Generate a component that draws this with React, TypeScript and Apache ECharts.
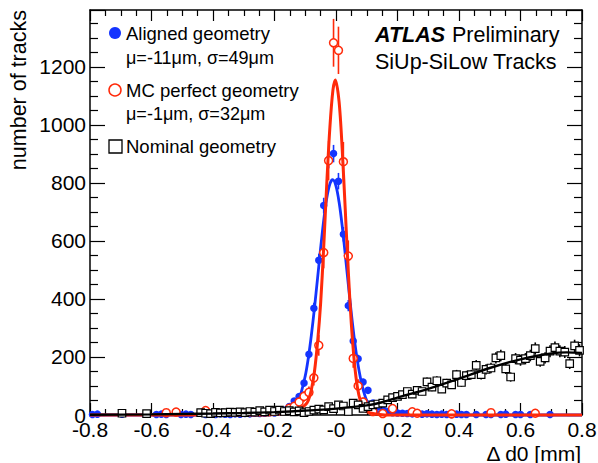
import React, { useEffect, useRef } from "react";
import * as echarts from "echarts";

// Histogram binning: 100 bins from -0.8 to 0.8 mm
const X_MIN = -0.8;
const BIN_W = 0.016;

// Aligned geometry (blue filled circles), counts per bin
const ALIGNED = [
  2, 3, 0, 0, 0, 0, 3, 0, 0, 0,
  0, 0, 0, 2, 3, 2, 0, 0, 2, 3,
  2, 0, 0, 2, 3, 2, 4, 3, 2, 4,
  3, 5, 4, 6, 5, 6, 8, 7, 10, 17,
  29, 48, 64, 110, 209, 368, 533, 722, 880, 901,
  806, 623, 377, 255, 194, 114, 85, 41, 29, 18,
  12, 8, 7, 6, 5, 4, 5, 3, 4, 3,
  2, 3, 2, 2, 3, 2, 2, 0, 2, 0,
  2, 2, 0, 2, 3, 0, 2, 2, 0, 2,
  0, 0, 0, 2, 0, 0, 0, 0, 0, 0,
];

// MC perfect geometry (red open circles)
const MC_PERFECT = [
  0, 0, 0, 0, 0, 0, 0, 0, 0, 0,
  0, 0, 0, 0, 0, 8, 0, 10, 0, 0,
  0, 0, 0, 15, 0, 0, 0, 0, 0, 0,
  0, 0, 0, 0, 0, 0, 0, 0, 0, 0,
  23, 30, 45, 64, 78, 128, 240, 560, 877, 1283,
  1257, 873, 548, 195, 100, 45, 22, 12, 0, 5,
  0, 22, 0, 0, 0, 11, 6, 0, 0, 0,
  0, 0, 0, 4, 0, 0, 0, 0, 0, 0,
  0, 8, 0, 0, 0, 0, 0, 0, 0, 0,
  6, 0, 0, 0, 0, 0, 0, 0, 0, 0,
];

// Nominal geometry (black open squares)
const NOMINAL = [
  0, 0, 0, 0, 0, 0, 6, 0, 0, 0,
  0, 5, 0, 0, 0, 0, 0, 0, 0, 0,
  0, 0, 8, 6, 5, 9, 7, 8, 10, 9,
  11, 8, 12, 10, 15, 11, 17, 12, 17, 12,
  15, 11, 14, 8, 12, 17, 20, 18, 29, 22,
  35, 31, 12, 41, 35, 23, 29, 35, 38, 41,
  52, 60, 64, 70, 81, 72, 85, 81, 114, 96,
  118, 89, 110, 104, 139, 112, 136, 139, 171, 139,
  157, 162, 197, 205, 159, 131, 194, 189, 194, 205,
  229, 185, 197, 220, 232, 220, 217, 177, 238, 223,
];

// Fit curves: [x, y]
const FIT_ALIGNED = [
  [-0.8, 0], [-0.4, 0], [-0.26, 1], [-0.22, 2], [-0.18, 6], [-0.16, 12], [-0.14, 24],
  [-0.12, 55], [-0.1, 135], [-0.09, 197], [-0.08, 276], [-0.07, 369], [-0.06, 471],
  [-0.05, 575], [-0.04, 671], [-0.03, 748], [-0.02, 796], [-0.011, 811], [0.0, 789],
  [0.01, 734], [0.02, 653], [0.03, 554], [0.04, 450], [0.05, 349], [0.06, 259],
  [0.07, 184], [0.08, 125], [0.09, 81], [0.1, 50], [0.12, 20], [0.14, 10], [0.17, 4],
  [0.22, 1], [0.3, 0], [0.8, 0],
];
const FIT_MC = [
  [-0.8, 0], [-0.4, 0], [-0.25, 0], [-0.2, 2], [-0.16, 7], [-0.14, 12], [-0.12, 20],
  [-0.1, 35], [-0.09, 50], [-0.08, 88], [-0.07, 150], [-0.06, 250], [-0.05, 385],
  [-0.04, 578], [-0.03, 798], [-0.02, 990], [-0.01, 1120], [-0.002, 1155], [0.01, 1080],
  [0.02, 920], [0.03, 710], [0.04, 494], [0.05, 312], [0.06, 179], [0.07, 93],
  [0.08, 46], [0.09, 22], [0.1, 12], [0.12, 5], [0.15, 1], [0.2, 0], [0.8, 0],
];
const FIT_NOMINAL = [
  [-0.8, 1], [-0.6, 2], [-0.4, 5], [-0.3, 7], [-0.2, 10], [-0.1, 15], [0.0, 22],
  [0.1, 33], [0.15, 44], [0.2, 60], [0.3, 90], [0.4, 125], [0.5, 162], [0.6, 192],
  [0.7, 212], [0.75, 216], [0.8, 214],
];

const X_TICKS = { min: -0.8, max: 0.8, interval: 0.2 };
const Y_TICKS = { min: 0, max: 1396, interval: 200 };

const BLUE = "#1434ff";
const RED = "#ff2a0a";
const BLACK = "#000000";
const FONT = "'Liberation Sans', Arial, Helvetica, sans-serif";

function points(values: number[], errScale: number) {
  const out: number[][] = [];
  values.forEach((v, i) => {
    if (v > 0) {
      const x = X_MIN + BIN_W * (i + 0.5);
      out.push([x, v, errScale * Math.sqrt(v)]);
    }
  });
  return out;
}

function errSeries(data: number[][], color: string, z: number) {
  return {
    type: "custom",
    xAxisIndex: 0,
    yAxisIndex: 0,
    z,
    silent: true,
    clip: true,
    data,
    encode: { x: 0, y: 1 },
    renderItem: (params: any, api: any) => {
      const x = api.value(0);
      const y = api.value(1);
      const e = api.value(2);
      const p1 = api.coord([x, Math.max(0, y - e)]);
      const p2 = api.coord([x, y + e]);
      return {
        type: "line",
        shape: { x1: p1[0], y1: p1[1], x2: p2[0], y2: p2[1] },
        style: { stroke: color, lineWidth: 1.6 },
      };
    },
  };
}

function fitSeries(data: number[][], color: string, z: number, width: number) {
  return {
    type: "line",
    xAxisIndex: 0,
    yAxisIndex: 0,
    z,
    data,
    showSymbol: false,
    symbol: "none",
    smooth: 0.3,
    clip: false,
    silent: true,
    lineStyle: { color, width },
  };
}

function axisCommon(tickLen: number, minorLen: number) {
  return {
    axisLine: { show: true, onZero: false, lineStyle: { color: BLACK, width: 1.5 } },
    axisTick: { show: true, inside: true, length: tickLen, lineStyle: { color: BLACK, width: 1.2 } },
    minorTick: { show: true, splitNumber: 4, length: minorLen, lineStyle: { color: BLACK, width: 1.2 } },
    splitLine: { show: false },
    minorSplitLine: { show: false },
  };
}

export default function App() {
  const ref = useRef<HTMLDivElement>(null);
  useEffect(() => {
    if (!ref.current) return;
    const chart = echarts.init(ref.current, undefined, { renderer: "svg" });
    const blue = points(ALIGNED, 1.0);
    const red = points(MC_PERFECT, 2.3);
    const black = points(NOMINAL, 1.4);

    const labelStyle = { fontSize: 21, color: BLACK, fontFamily: FONT };

    const option: any = {
      animation: false,
      backgroundColor: "#ffffff",
      grid: { left: 90, right: 16, top: 10, bottom: 48, containLabel: false, outerBoundsMode: "none" },
      xAxis: [
        {
          type: "value",
          position: "bottom",
          ...X_TICKS,
          ...axisCommon(12, 6),
          axisLabel: {
            ...labelStyle,
            margin: 4,
            formatter: (v: number) => (Math.abs(v) < 1e-9 ? "-0" : v.toFixed(1)),
          },
        },
        {
          type: "value",
          position: "top",
          ...X_TICKS,
          ...axisCommon(11, 6),
          axisLabel: { show: false },
        },
      ],
      yAxis: [
        {
          type: "value",
          position: "left",
          ...Y_TICKS,
          ...axisCommon(15, 8),
          axisLabel: {
            ...labelStyle,
            margin: 4,
            showMaxLabel: false,
            formatter: (v: number) => (Math.round(v) % 200 === 0 ? String(Math.round(v)) : ""),
          },
        },
        {
          type: "value",
          position: "right",
          ...Y_TICKS,
          ...axisCommon(15, 8),
          axisLabel: { show: false },
        },
      ],
      series: [
        errSeries(blue, BLUE, 2),
        {
          type: "scatter",
          xAxisIndex: 0,
          yAxisIndex: 0,
          z: 3,
          clip: false,
          silent: true,
          data: blue.map((p) => [p[0], p[1]]),
          symbol: "circle",
          symbolSize: 7.5,
          itemStyle: { color: BLUE, opacity: 1 },
        },
        fitSeries(FIT_ALIGNED, BLUE, 4, 2.8),
        errSeries(red, RED, 5),
        {
          type: "scatter",
          xAxisIndex: 0,
          yAxisIndex: 0,
          z: 6,
          clip: false,
          silent: true,
          data: red.map((p) => [p[0], p[1]]),
          symbol: "circle",
          symbolSize: 8,
          itemStyle: { color: "#ffffff", borderColor: RED, borderWidth: 1.5, opacity: 1 },
        },
        fitSeries(FIT_MC, RED, 7, 3),
        errSeries(black, BLACK, 8),
        {
          type: "scatter",
          xAxisIndex: 0,
          yAxisIndex: 0,
          z: 9,
          clip: false,
          silent: true,
          data: black.map((p) => [p[0], p[1]]),
          symbol: "rect",
          symbolSize: 7.5,
          itemStyle: { color: "#ffffff", borderColor: BLACK, borderWidth: 1.2, opacity: 1 },
        },
        fitSeries(FIT_NOMINAL, BLACK, 10, 2.4),
      ],
      graphic: [
        {
          type: "text",
          x: 19,
          y: 10,
          rotation: Math.PI / 2,
          z: 20,
          style: { text: "number of tracks", fontSize: 21.5, fontFamily: FONT, fill: BLACK, align: "right", verticalAlign: "middle" },
        },
        {
          type: "text",
          x: 581,
          y: 453,
          z: 20,
          style: { text: "Δ d0 [mm]", fontSize: 21, fontFamily: FONT, fill: BLACK, align: "right", verticalAlign: "middle" },
        },
        // legend
        { type: "circle", z: 20, shape: { cx: 115, cy: 33, r: 6 }, style: { fill: BLUE } },
        {
          type: "text", x: 126, y: 33, z: 20,
          style: { text: "Aligned geometry", fontSize: 18.5, fontFamily: FONT, fill: BLACK, align: "left", verticalAlign: "middle" },
        },
        {
          type: "text", x: 126, y: 58, z: 20,
          style: { text: "μ=-11μm, σ=49μm", fontSize: 18, fontFamily: FONT, fill: BLACK, align: "left", verticalAlign: "middle" },
        },
        { type: "circle", z: 20, shape: { cx: 115, cy: 90, r: 6 }, style: { fill: "#ffffff", stroke: RED, lineWidth: 1.5 } },
        {
          type: "text", x: 126, y: 90, z: 20,
          style: { text: "MC perfect geometry", fontSize: 18.5, fontFamily: FONT, fill: BLACK, align: "left", verticalAlign: "middle" },
        },
        {
          type: "text", x: 126, y: 114, z: 20,
          style: { text: "μ=-1μm, σ=32μm", fontSize: 18, fontFamily: FONT, fill: BLACK, align: "left", verticalAlign: "middle" },
        },
        { type: "rect", z: 20, shape: { x: 109, y: 140, width: 13, height: 13 }, style: { fill: "#ffffff", stroke: BLACK, lineWidth: 1.3 } },
        {
          type: "text", x: 126, y: 146, z: 20,
          style: { text: "Nominal geometry", fontSize: 18.5, fontFamily: FONT, fill: BLACK, align: "left", verticalAlign: "middle" },
        },
        // ATLAS label
        {
          type: "text", x: 375, y: 35, z: 20,
          style: { text: "ATLAS", fontSize: 21.5, fontFamily: FONT, fontWeight: "bold", fontStyle: "italic", fill: BLACK, align: "left", verticalAlign: "middle" },
        },
        {
          type: "text", x: 452, y: 35, z: 20,
          style: { text: "Preliminary", fontSize: 21.5, fontFamily: FONT, fill: BLACK, align: "left", verticalAlign: "middle" },
        },
        {
          type: "text", x: 375, y: 62, z: 20,
          style: { text: "SiUp-SiLow Tracks", fontSize: 21.5, fontFamily: FONT, fill: BLACK, align: "left", verticalAlign: "middle" },
        },
      ],
    };
    chart.setOption(option);
    return () => chart.dispose();
  }, []);
  return (
    <div
      ref={ref}
      style={{ position: "fixed", left: 0, top: 0, width: 598, height: 463, background: "#fff" }}
    />
  );
}
